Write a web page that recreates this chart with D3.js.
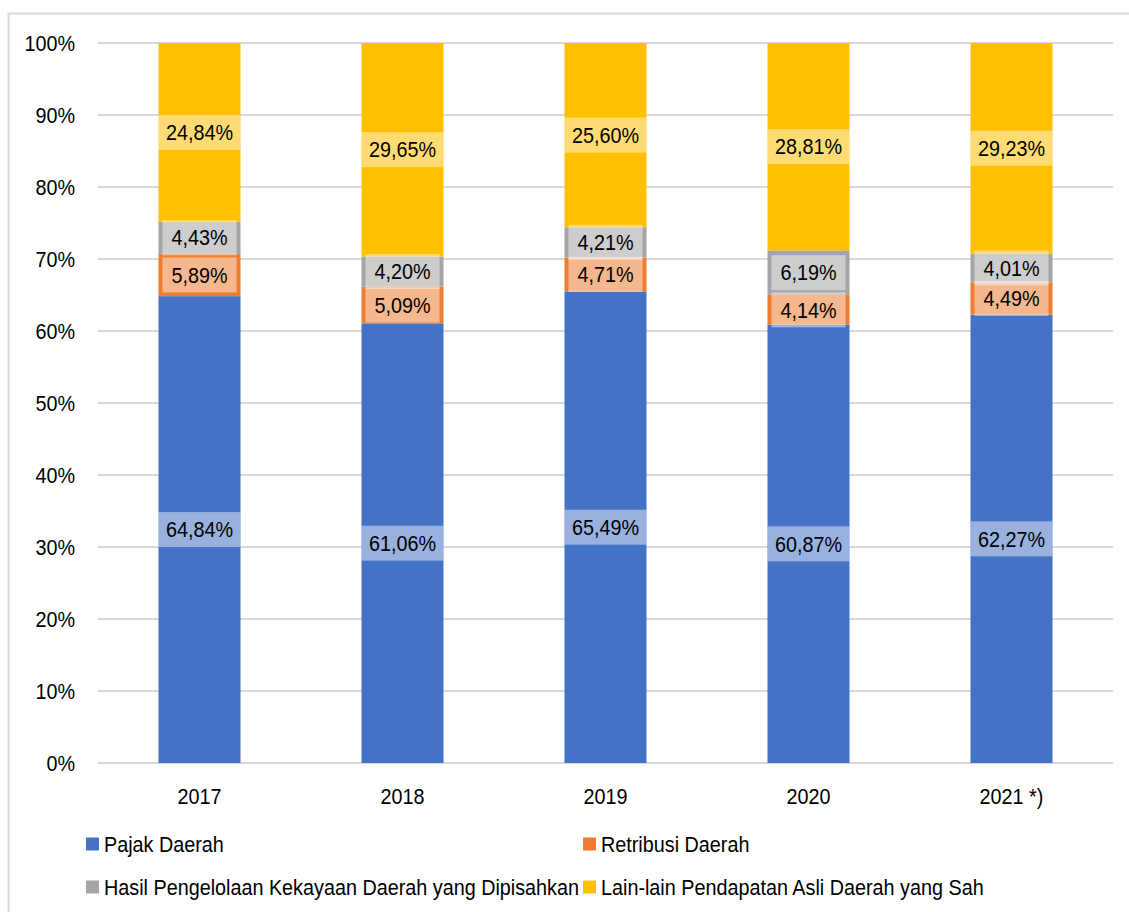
<!DOCTYPE html>
<html>
<head>
<meta charset="utf-8">
<script src="https://cdn.jsdelivr.net/npm/d3@7"></script>
<style>
  body { margin: 0; background: #fff; }
  text { font-family: "Liberation Sans", Arial, sans-serif; fill: #000; }
</style>
</head>
<body>
<script>
// data
const years = ["2017", "2018", "2019", "2020", "2021 *)"];
const seriesNames = ["Pajak Daerah", "Retribusi Daerah",
  "Hasil Pengelolaan Kekayaan Daerah yang Dipisahkan",
  "Lain-lain Pendapatan Asli Daerah yang Sah"];
const pajak = [64.84, 61.06, 65.49, 60.87, 62.27];
const retribusi = [5.89, 5.09, 4.71, 4.14, 4.49];
const hasil = [4.43, 4.20, 4.21, 6.19, 4.01];
const lainlain = [24.84, 29.65, 25.60, 28.81, 29.23];
const yTicks = [0, 10, 20, 30, 40, 50, 60, 70, 80, 90, 100];

const colors = ["#4472C4", "#ED7D31", "#A5A5A5", "#FFC000"];

const W = 1129, H = 912;
const margin = {top: 43, left: 98, right: 16, bottom: 149};
const fs = 22, squeeze = 0.9;

const svg = d3.select("body").append("svg")
    .attr("width", W)
    .attr("height", H);

// text is a bit condensed in the original, so scale it horizontally
function label(parent, px, py, str, anchor) {
  return parent.append("text")
      .attr("transform", `translate(${px},${py}) scale(${squeeze},1)`)
      .attr("dy", "0.35em")
      .attr("text-anchor", anchor)
      .attr("font-size", fs)
      .text(str);
}

// outer frame
svg.append("rect")
    .attr("x", 8.5).attr("y", 13.5)
    .attr("width", W).attr("height", H)
    .attr("fill", "none")
    .attr("stroke", "#d9d9d9")
    .attr("stroke-width", 2);

const x = d3.scaleBand()
    .domain(years)
    .range([margin.left, W - margin.right])
    .paddingInner(0.596)
    .paddingOuter(0.298);

const y = d3.scaleLinear()
    .domain([0, 100])
    .range([H - margin.bottom, margin.top]);

// grid
svg.append("g")
    .selectAll("line")
    .data(yTicks)
    .join("line")
    .attr("x1", margin.left).attr("x2", W - margin.right)
    .attr("y1", d => y(d)).attr("y2", d => y(d))
    .attr("stroke", "#d9d9d9")
    .attr("stroke-width", 2);

// y labels
const yLab = svg.append("g");
yTicks.forEach(d => label(yLab, 75, y(d), d + "%", "end"));

// x labels
const xLab = svg.append("g");
years.forEach(d => label(xLab, x(d) + x.bandwidth() / 2, 796, d, "middle"));

// stack
const rows = years.map((yr, i) => ({
  year: yr, s0: pajak[i], s1: retribusi[i], s2: hasil[i], s3: lainlain[i]
}));
const stack = d3.stack().keys(["s0", "s1", "s2", "s3"]);
const layers = stack(rows);

const bars = svg.append("g");
layers.forEach((layer, k) => {
  bars.selectAll(null)
    .data(layer)
    .join("rect")
    .attr("x", d => x(d.data.year))
    .attr("width", x.bandwidth())
    .attr("y", d => y(Math.min(d[1], 100)))
    .attr("height", d => y(d[0]) - y(Math.min(d[1], 100)))
    .attr("fill", colors[k]);
});

// labels with light boxes
const labels = svg.append("g");
layers.forEach((layer, k) => {
  layer.forEach(d => {
    const v = d[1] - d[0];
    const cx = x(d.data.year) + x.bandwidth() / 2;
    const cy = y((d[0] + d[1]) / 2);
    const g = labels.append("g");
    const box = g.append("rect");
    const t = label(g, cx, cy, v.toFixed(2).replace(".", ",") + "%", "middle");
    const bw = Math.min(t.node().getBBox().width * squeeze + 18, x.bandwidth());
    const bh = 35;
    box.attr("x", cx - bw / 2)
        .attr("y", cy - bh / 2)
        .attr("width", bw)
        .attr("height", bh)
        .attr("fill", "#fff")
        .attr("fill-opacity", 0.45);
  });
});

// legend
const legendPos = [[86, 844], [583, 844], [86, 887], [583, 887]];
const legend = svg.append("g");
seriesNames.forEach((name, i) => {
  legend.append("rect")
      .attr("x", legendPos[i][0])
      .attr("y", legendPos[i][1] - 6.5)
      .attr("width", 13).attr("height", 13)
      .attr("fill", colors[i]);
  label(legend, legendPos[i][0] + 18, legendPos[i][1], name, "start");
});
</script>
</body>
</html>
